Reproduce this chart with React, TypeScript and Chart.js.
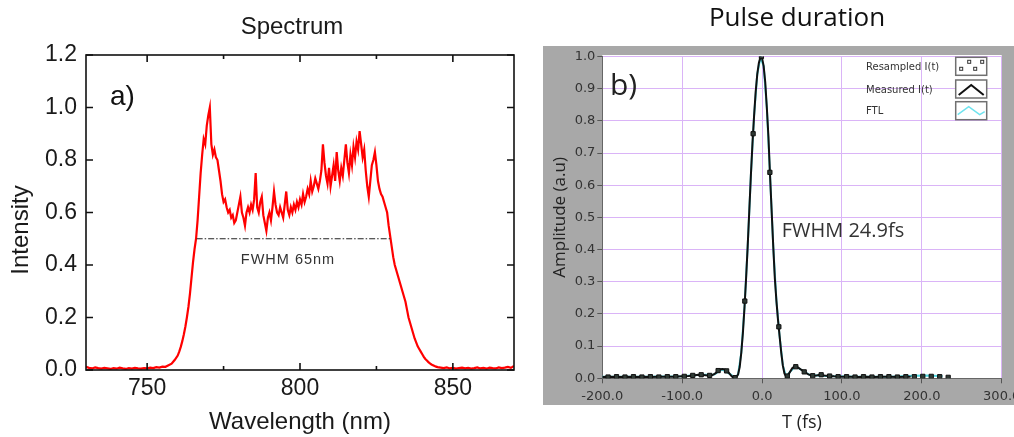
import React, { useEffect, useRef } from "react";
import { Chart, registerables } from "chart.js";

Chart.register(...registerables);

// ---------- Panel a) Spectrum ----------
const spectrumWavelength: number[] = [
  730, 731, 732, 733, 734, 735, 736, 737, 738, 739,
  740, 741, 742, 743, 744, 745, 746, 747, 748, 749,
  750, 751, 752, 753, 754, 755, 756, 757, 758, 759,
  760, 760.5, 761, 761.5, 762, 762.5, 763, 763.5, 764, 764.5,
  765, 765.5, 766, 766.5, 767, 767.5, 768, 768.5, 769, 769.5,
  770, 770.5, 771, 771.5, 772, 772.5, 773, 773.5, 774, 774.5,
  775, 775.5, 776, 776.5, 777, 777.5, 778, 778.5, 779, 779.5,
  780, 780.5, 781, 781.5, 782, 782.5, 783, 783.5, 784, 784.5,
  785, 785.5, 786, 786.5, 787, 787.5, 788, 788.5, 789, 789.5,
  790, 790.5, 791, 791.5, 792, 792.5, 793, 793.5, 794, 794.5,
  795, 795.5, 796, 796.5, 797, 797.5, 798, 798.5, 799, 799.5,
  800, 800.5, 801, 801.5, 802, 802.5, 803, 803.5, 804, 804.5,
  805, 805.5, 806, 806.5, 807, 807.5, 808, 808.5, 809, 809.5,
  810, 810.5, 811, 811.5, 812, 812.5, 813, 813.5, 814, 814.5,
  815, 815.5, 816, 816.5, 817, 817.5, 818, 818.5, 819, 819.5,
  820, 820.5, 821, 821.5, 822, 822.5, 823, 823.5, 824, 824.5,
  825, 825.5, 826, 826.5, 827, 827.5, 828, 828.5, 829, 829.5,
  830, 830.5, 831, 831.5, 832, 832.5, 833, 833.5, 834, 834.5,
  835, 835.5, 836, 836.5, 837, 837.5, 838, 838.5, 839, 839.5,
  840, 840.5, 841, 841.5, 842, 842.5, 843, 843.5, 844, 844.5,
  845, 845.5, 846,
  847, 848, 849, 850, 851, 852, 853, 854, 855, 856,
  857, 858, 859, 860, 861, 862, 863, 864, 865, 866,
  867, 868, 869, 870,
];

const spectrumIntensity: number[] = [
  0.012, 0.008, 0.006, 0.010, 0.007, 0.005, 0.008, 0.006, 0.004, 0.007,
  0.005, 0.009, 0.006, 0.004, 0.007, 0.005, 0.008, 0.006, 0.005, 0.007,
  0.006, 0.009, 0.007, 0.011, 0.009, 0.013, 0.012, 0.018, 0.024, 0.038,
  0.055, 0.070, 0.088, 0.110, 0.135, 0.165, 0.200, 0.240, 0.290, 0.350,
  0.410, 0.460, 0.500, 0.570, 0.660, 0.750, 0.820, 0.880, 0.860, 0.930,
  0.970, 1.000, 0.860, 0.820, 0.840, 0.810, 0.800, 0.760, 0.720, 0.670,
  0.640, 0.650, 0.620, 0.600, 0.610, 0.580, 0.590, 0.560, 0.570, 0.600,
  0.630, 0.660, 0.600, 0.580, 0.550, 0.600, 0.620, 0.600, 0.630, 0.610,
  0.650, 0.750, 0.620, 0.600, 0.640, 0.660, 0.590, 0.560, 0.530, 0.580,
  0.600, 0.570, 0.620, 0.680, 0.630, 0.600, 0.590, 0.620, 0.600, 0.580,
  0.630, 0.680, 0.610, 0.590, 0.620, 0.600, 0.630, 0.610, 0.640, 0.620,
  0.650, 0.630, 0.670, 0.640, 0.660, 0.690, 0.670, 0.720, 0.680, 0.700,
  0.730, 0.710, 0.690, 0.720, 0.760, 0.860, 0.790, 0.740, 0.710, 0.770,
  0.700, 0.740, 0.780, 0.720, 0.830, 0.760, 0.720, 0.770, 0.740, 0.800,
  0.860, 0.790, 0.750, 0.820, 0.780, 0.850, 0.810, 0.870, 0.840, 0.910,
  0.860, 0.810, 0.840, 0.760, 0.700, 0.660, 0.720, 0.780, 0.800, 0.830,
  0.780, 0.720, 0.690, 0.670, 0.660, 0.640, 0.620, 0.600, 0.550, 0.510,
  0.470, 0.430, 0.400, 0.380, 0.360, 0.340, 0.320, 0.300, 0.280, 0.260,
  0.230, 0.200, 0.180, 0.160, 0.140, 0.120, 0.105, 0.090, 0.080, 0.070,
  0.060, 0.050, 0.042, 0.036, 0.030, 0.025, 0.021, 0.018, 0.015, 0.013,
  0.011, 0.010, 0.009,
  0.007, 0.010, 0.006, 0.008, 0.005, 0.007, 0.009, 0.006, 0.008, 0.005,
  0.007, 0.010, 0.006, 0.008, 0.005, 0.009, 0.007, 0.006, 0.010, 0.007,
  0.009, 0.012, 0.008, 0.015,
];

const fwhmWavelength: number[] = [766.2, 829.8];
const fwhmLevel: number[] = [0.5, 0.5];
const wavelengthMajorTicks: number[] = [750, 800, 850];
const wavelengthMinorTicks: number[] = [775, 825];
const intensityTicks: number[] = [0, 0.2, 0.4, 0.6, 0.8, 1.0, 1.2];

// ---------- Panel b) Pulse duration ----------
const measuredTime: number[] = [
  -200, -190, -180, -170, -160, -150, -140, -130, -120, -110,
  -100, -92, -86, -80, -74, -68, -62, -58, -55, -52,
  -49, -46, -43, -40, -38, -36, -34, -32, -30, -28,
  -26, -24, -22, -20, -18, -16, -14, -12, -10, -8,
  -6, -4, -2, 0, 2, 4, 6, 8, 10, 12,
  14, 16, 18, 20, 22, 24, 26, 28, 30, 32,
  35, 38, 41, 44, 47, 50, 54, 58, 63, 68,
  73, 78, 84, 90, 100, 110, 120, 130, 140, 150,
  160, 170, 180, 186,
];
const measuredAmp: number[] = [
  0.004, 0.005, 0.004, 0.005, 0.004, 0.005, 0.004, 0.005, 0.005, 0.005,
  0.006, 0.007, 0.009, 0.011, 0.010, 0.009, 0.010, 0.016, 0.024, 0.028,
  0.029, 0.027, 0.021, 0.012, 0.006, 0.002, 0.001, 0.004, 0.012, 0.035,
  0.080, 0.140, 0.220, 0.310, 0.410, 0.520, 0.630, 0.730, 0.815, 0.890,
  0.945, 0.980, 0.998, 0.995, 0.970, 0.920, 0.840, 0.750, 0.630, 0.520,
  0.410, 0.310, 0.240, 0.180, 0.130, 0.080, 0.040, 0.015, 0.006, 0.008,
  0.020, 0.032, 0.037, 0.035, 0.030, 0.025, 0.018, 0.012, 0.008, 0.009,
  0.011, 0.009, 0.007, 0.006, 0.005, 0.005, 0.004, 0.005, 0.004, 0.005,
  0.005, 0.004, 0.005, 0.005,
];

const resampledTime: number[] = [
  -192.8, -182.2, -171.6, -161.0, -150.4, -139.8, -129.2, -118.6, -108.0, -97.4,
  -86.8, -76.2, -65.6, -55.0, -44.4, -33.8,
  -21.6, -11.2, -0.8, 9.8, 21.0,
  31.6, 42.2, 52.8, 63.4, 74.0, 84.6, 95.2, 105.8, 116.4, 127.0,
  137.6, 148.2, 158.8, 169.4, 180.0, 190.6, 201.2, 211.8, 222.4, 233.0,
];
const resampledAmp: number[] = [
  0.004, 0.005, 0.004, 0.005, 0.004, 0.005, 0.004, 0.005, 0.005, 0.006,
  0.009, 0.011, 0.009, 0.024, 0.023, 0.002,
  0.240, 0.760, 1.000, 0.640, 0.160,
  0.007, 0.036, 0.020, 0.008, 0.011, 0.007, 0.005, 0.005, 0.004, 0.005,
  0.004, 0.005, 0.005, 0.004, 0.005, 0.005, 0.006, 0.006, 0.005, 0.003,
];

const ftlTime: number[] = [
  -200, -150, -100, -80, -60, -50, -40, -34, -30, -26,
  -22, -18, -14, -10, -6, -2, 2, 6, 10, 14,
  18, 22, 26, 30, 35, 42, 50, 60, 80, 120,
  160, 190, 205, 215, 226,
];
const ftlAmp: number[] = [
  0.005, 0.005, 0.006, 0.010, 0.012, 0.028, 0.013, 0.002, 0.012, 0.080,
  0.220, 0.410, 0.630, 0.815, 0.945, 0.998, 0.970, 0.840, 0.630, 0.410,
  0.240, 0.130, 0.040, 0.006, 0.020, 0.037, 0.025, 0.010, 0.007, 0.005,
  0.005, 0.008, 0.009, 0.008, 0.006,
];

const timeTicks: number[] = [-200, -100, 0, 100, 200, 300];
const amplitudeTicks: number[] = [0, 0.1, 0.2, 0.3, 0.4, 0.5, 0.6, 0.7, 0.8, 0.9, 1.0];
const legendLabels: string[] = ["Resampled I(t)", "Measured I(t)", "FTL"];

const SANS_A = '"Liberation Sans", Arial, Helvetica, sans-serif';
const SANS_B = '"Open Sans", "Noto Sans", sans-serif';
const TICK_B = '"DejaVu Sans", Verdana, sans-serif';

const pairs = (xs: number[], ys: number[]) => xs.map((x, i) => ({ x, y: ys[i] }));

const spacerAxis = (w: number) => ({
  type: "linear",
  position: "right",
  display: true,
  grid: { display: false, drawTicks: false },
  border: { display: false },
  ticks: { display: false },
  afterFit: (s: any) => { s.width = w; },
});

const spectrumDecor = {
  id: "spectrumDecor",
  afterDraw(chart: any) {
    const { ctx, chartArea: a, scales } = chart;
    const xs = scales.x;
    const ys = scales.y;
    ctx.save();
    ctx.strokeStyle = "#111";
    ctx.lineWidth = 1.6;
    ctx.strokeRect(a.left, a.top, a.right - a.left, a.bottom - a.top);
    ctx.beginPath();
    for (const v of wavelengthMajorTicks) {
      const p = xs.getPixelForValue(v);
      ctx.moveTo(p, a.bottom); ctx.lineTo(p, a.bottom - 7);
      ctx.moveTo(p, a.top); ctx.lineTo(p, a.top + 7);
    }
    for (const v of wavelengthMinorTicks) {
      const p = xs.getPixelForValue(v);
      ctx.moveTo(p, a.bottom); ctx.lineTo(p, a.bottom - 4);
      ctx.moveTo(p, a.top); ctx.lineTo(p, a.top + 4);
    }
    for (const v of intensityTicks) {
      const p = ys.getPixelForValue(v);
      ctx.moveTo(a.left, p); ctx.lineTo(a.left + 7, p);
      ctx.moveTo(a.right, p); ctx.lineTo(a.right - 7, p);
    }
    ctx.stroke();

    ctx.fillStyle = "#111";
    ctx.textBaseline = "middle";
    ctx.textAlign = "center";
    ctx.font = `28px ${SANS_A}`;
    ctx.fillText("a)", a.left + 36.5, a.top + 42);

    ctx.fillStyle = "#333";
    ctx.font = `14.5px ${SANS_A}`;
    try { (ctx as any).letterSpacing = "1px"; } catch (e) {}
    ctx.fillText("FWHM 65nm", a.left + 202, a.top + 205);
    try { (ctx as any).letterSpacing = "0px"; } catch (e) {}

    ctx.fillStyle = "#1a1a1a";
    ctx.font = `24px ${SANS_A}`;
    ctx.translate(21, 230);
    ctx.rotate(-Math.PI / 2);
    ctx.fillText("Intensity", 0, 0);
    ctx.restore();
  },
};

const pulseDecor = {
  id: "pulseDecor",
  beforeDraw(chart: any) {
    const { ctx, chartArea: a, width } = chart;
    ctx.save();
    ctx.fillStyle = "#a8a8a8";
    ctx.fillRect(a.left - 59.3, a.top - 10.5, width, a.bottom - a.top + 37.2);
    ctx.fillStyle = "#ffffff";
    ctx.fillRect(a.left, a.top - 1.5, a.right - a.left, a.bottom - a.top + 1.5);
    ctx.restore();
  },
  afterDraw(chart: any) {
    const { ctx, chartArea: a } = chart;
    ctx.save();
    ctx.textBaseline = "middle";
    ctx.textAlign = "left";
    ctx.fillStyle = "#222";
    ctx.font = `30px ${SANS_B}`;
    ctx.fillText("b)", a.left + 7.7, a.top + 29.5);

    ctx.fillStyle = "#333";
    ctx.font = `20px ${SANS_B}`;
    ctx.fillText("FWHM 24.9fs", a.left + 179.4, a.top + 175.2);

    // legend
    const rowsY = [10.8, 33.5, 55.2];
    ctx.font = `10px ${TICK_B}`;
    legendLabels.forEach((label, i) => {
      const cy = a.top + rowsY[i];
      ctx.fillStyle = "#333";
      ctx.fillText(label, a.right - 135.7, cy);
      const bx = a.right - 46;
      const by = cy - 10;
      ctx.fillStyle = "#fff";
      ctx.fillRect(bx, by, 31, 18);
      ctx.strokeStyle = "#707070";
      ctx.lineWidth = 1.5;
      ctx.strokeRect(bx, by, 31, 18);
      if (i === 0) {
        ctx.strokeStyle = "#333";
        ctx.lineWidth = 1;
        ctx.strokeRect(bx + 4, by + 10, 3, 3);
        ctx.strokeRect(bx + 12, by + 3, 3, 3);
        ctx.strokeRect(bx + 18, by + 10, 3, 3);
        ctx.strokeRect(bx + 25, by + 3, 3, 3);
      } else if (i === 1) {
        ctx.strokeStyle = "#111";
        ctx.lineWidth = 2;
        ctx.beginPath();
        ctx.moveTo(bx + 3, by + 15);
        ctx.lineTo(bx + 15.5, by + 5);
        ctx.lineTo(bx + 28, by + 15);
        ctx.stroke();
      } else {
        ctx.strokeStyle = "#6fe3ee";
        ctx.lineWidth = 1.5;
        ctx.beginPath();
        ctx.moveTo(bx + 2, by + 13);
        ctx.lineTo(bx + 13, by + 5);
        ctx.lineTo(bx + 24, by + 13);
        ctx.lineTo(bx + 29, by + 10);
        ctx.stroke();
      }
    });
    ctx.restore();
  },
};

export default function App() {
  const aRef = useRef<HTMLCanvasElement>(null);
  const bRef = useRef<HTMLCanvasElement>(null);

  useEffect(() => {
    const chartA = new Chart(aRef.current as HTMLCanvasElement, {
      type: "line",
      data: {
        datasets: [
          {
            label: "FWHM",
            data: pairs(fwhmWavelength, fwhmLevel),
            borderColor: "#222",
            borderWidth: 1,
            borderDash: [6, 2, 1.5, 2],
            pointRadius: 0,
            order: 0,
          },
          {
            label: "Spectrum",
            data: pairs(spectrumWavelength, spectrumIntensity),
            borderColor: "#ff0000",
            borderWidth: 2.2,
            pointRadius: 0,
            tension: 0,
            order: 1,
          },
        ],
      },
      options: {
        responsive: false,
        animation: false,
        devicePixelRatio: 1,
        events: [],
        layout: { padding: 0 },
        plugins: {
          legend: { display: false },
          tooltip: { enabled: false },
          title: {
            display: true,
            text: "Spectrum",
            color: "#1a1a1a",
            font: { family: SANS_A, size: 24, weight: "normal", lineHeight: 1.2 },
            padding: { top: 12.6, bottom: 13.6 },
          },
        },
        scales: {
          x: {
            type: "linear",
            min: 730,
            max: 870,
            afterBuildTicks: (s: any) => { s.ticks = wavelengthMajorTicks.map((v) => ({ value: v })); },
            afterFit: (s: any) => { s.height = 67; },
            grid: { display: false, drawTicks: false },
            border: { display: false },
            ticks: {
              color: "#1a1a1a",
              font: { family: SANS_A, size: 23 },
              padding: 5,
              maxRotation: 0,
              autoSkip: false,
              callback: (v: any) => String(v),
            },
            title: {
              display: true,
              text: "Wavelength (nm)",
              color: "#1a1a1a",
              font: { family: SANS_A, size: 24 },
              padding: { top: 0, bottom: 0 },
            },
          },
          y: {
            type: "linear",
            min: 0,
            max: 1.2,
            afterBuildTicks: (s: any) => { s.ticks = intensityTicks.map((v) => ({ value: v })); },
            afterFit: (s: any) => { s.width = 86; },
            grid: { display: false, drawTicks: false },
            border: { display: false },
            ticks: {
              color: "#1a1a1a",
              font: { family: SANS_A, size: 23 },
              padding: 9,
              callback: (v: any) => Number(v).toFixed(1),
            },
          },
          yRightSpace: spacerAxis(70),
        },
      } as any,
      plugins: [spectrumDecor],
    });

    const gridB = {
      color: "#dab4f7",
      lineWidth: 1,
      drawTicks: true,
      tickLength: 5,
      tickColor: "#555",
    };

    const chartB = new Chart(bRef.current as HTMLCanvasElement, {
      type: "line",
      data: {
        datasets: [
          {
            label: "Resampled I(t)",
            data: pairs(resampledTime, resampledAmp),
            showLine: false,
            pointStyle: "rect",
            pointRadius: 3,
            pointBackgroundColor: "#2f3a35",
            pointBorderColor: "#111",
            pointBorderWidth: 1,
            order: 0,
          },
          {
            label: "Measured I(t)",
            data: pairs(measuredTime, measuredAmp),
            borderColor: "#111",
            borderWidth: 2,
            pointRadius: 0,
            tension: 0,
            order: 1,
          },
          {
            label: "FTL",
            data: pairs(ftlTime, ftlAmp),
            borderColor: "#4fd6e0",
            borderWidth: 2,
            pointRadius: 0,
            tension: 0,
            order: 2,
          },
        ],
      },
      options: {
        responsive: false,
        animation: false,
        devicePixelRatio: 1,
        events: [],
        layout: { padding: 0 },
        plugins: {
          legend: { display: false },
          tooltip: { enabled: false },
          title: {
            display: true,
            text: "Pulse duration",
            color: "#111",
            font: { family: SANS_B, size: 26, weight: "normal", lineHeight: 1.2 },
            padding: { top: 3.4, bottom: 21.9 },
          },
        },
        scales: {
          x: {
            type: "linear",
            min: -200,
            max: 300,
            afterBuildTicks: (s: any) => { s.ticks = timeTicks.map((v) => ({ value: v })); },
            afterFit: (s: any) => { s.height = 58.7; },
            grid: gridB,
            border: { display: true, color: "#666", width: 1 },
            ticks: {
              color: "#333",
              font: { family: TICK_B, size: 13 },
              padding: 5.6,
              maxRotation: 0,
              autoSkip: false,
              callback: (v: any) => Number(v).toFixed(1),
            },
            title: {
              display: true,
              text: "T (fs)",
              color: "#222",
              font: { family: SANS_B, size: 18 },
              padding: { top: 0, bottom: 3 },
            },
          },
          y: {
            type: "linear",
            min: 0,
            max: 1,
            afterBuildTicks: (s: any) => { s.ticks = amplitudeTicks.map((v) => ({ value: v })); },
            afterFit: (s: any) => { s.width = 82.3; },
            grid: gridB,
            border: { display: true, color: "#666", width: 1 },
            ticks: {
              color: "#333",
              font: { family: TICK_B, size: 13 },
              padding: 2,
              callback: (v: any) => Number(v).toFixed(1),
            },
            title: {
              display: true,
              text: "Amplitude (a.u)",
              color: "#222",
              font: { family: SANS_B, size: 17 },
              padding: { top: 29.8, bottom: 0 },
            },
          },
          yRightSpace: spacerAxis(72.3),
        },
      } as any,
      plugins: [pulseDecor],
    });

    return () => {
      chartA.destroy();
      chartB.destroy();
    };
  }, []);

  return (
    <div
      style={{
        position: "absolute",
        left: 0,
        top: 0,
        width: 1014,
        height: 437,
        overflow: "hidden",
        background: "#ffffff",
      }}
    >
      <canvas
        ref={aRef}
        width={584}
        height={437}
        style={{ position: "absolute", left: 0, top: 0, width: 584, height: 437 }}
      />
      <canvas
        ref={bRef}
        width={554}
        height={437}
        style={{ position: "absolute", left: 520, top: 0, width: 554, height: 437 }}
      />
    </div>
  );
}
